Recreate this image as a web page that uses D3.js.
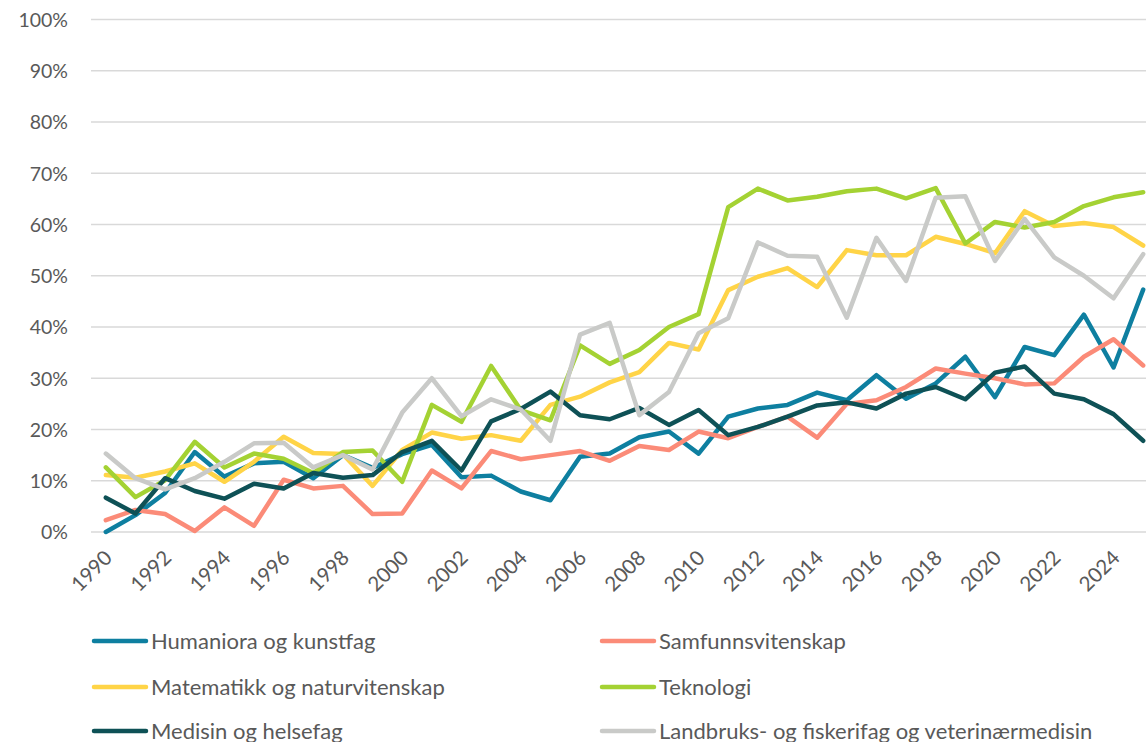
<!DOCTYPE html>
<html>
<head>
<meta charset="utf-8">
<script src="https://cdn.jsdelivr.net/npm/d3@7"></script>
<style>
  html, body { margin: 0; padding: 0; background: #fff; }
  svg { display: block; }
  text { font-family: Lato, "Open Sans", sans-serif; fill: #595959; }
</style>
</head>
<body>
<svg id="chart" width="1146" height="742"></svg>
<script>
const years = d3.range(1990, 2026);
const tickLabels = years.filter(y => (y - 1990) % 2 === 0).map(String);
const yTicks = [0, 0.1, 0.2, 0.3, 0.4, 0.5, 0.6, 0.7, 0.8, 0.9, 1.0];

const seriesNames = [
  "Humaniora og kunstfag",
  "Samfunnsvitenskap",
  "Matematikk og naturvitenskap",
  "Teknologi",
  "Medisin og helsefag",
  "Landbruks- og fiskerifag og veterinærmedisin"
];
const seriesColors = ["#0E7FA0", "#FB8B78", "#FFD447", "#A4D233", "#0E5156", "#C9CAC8"];

const humaniora = [0, 3.3, 7.6, 15.6, 10.8, 13.4, 13.7, 10.5, 15, 12.5, 15.2, 17, 10.7, 11, 7.9, 6.2, 14.7, 15.3, 18.5, 19.6, 15.3, 22.5, 24.1, 24.8, 27.2, 25.7, 30.6, 26, 29, 34.2, 26.3, 36.1, 34.5, 42.4, 32.1, 47.3];
const samfunn = [2.3, 4.3, 3.5, 0.2, 4.8, 1.2, 10.2, 8.5, 9, 3.5, 3.6, 12, 8.5, 15.8, 14.2, 15, 15.8, 13.9, 16.8, 16, 19.6, 18.3, 20.5, 22.5, 18.4, 25, 25.7, 28.3, 31.9, 30.9, 30, 28.8, 29, 34.2, 37.6, 32.5];
const matematikk = [11.1, 10.6, 11.8, 13.4, 9.8, 13.7, 18.6, 15.4, 15.2, 9, 16, 19.4, 18.2, 18.9, 17.8, 24.8, 26.4, 29.2, 31.2, 36.9, 35.6, 47.2, 49.8, 51.5, 47.8, 55, 54, 54, 57.6, 56.2, 54.4, 62.6, 59.7, 60.3, 59.5, 55.9];
const teknologi = [12.6, 6.8, 10.1, 17.6, 12.6, 15.3, 14.3, 11.5, 15.6, 15.9, 9.8, 24.8, 21.5, 32.4, 23.8, 21.8, 36.4, 32.8, 35.5, 40, 42.5, 63.4, 67, 64.7, 65.4, 66.5, 67, 65.1, 67.1, 56.3, 60.5, 59.4, 60.5, 63.6, 65.3, 66.3];
const medisin = [6.7, 3.6, 10.5, 8, 6.5, 9.4, 8.5, 11.5, 10.6, 11.1, 15.6, 17.8, 12, 21.6, 24, 27.4, 22.8, 22, 24.2, 20.9, 23.8, 18.9, 20.5, 22.5, 24.7, 25.3, 24.1, 27, 28.3, 25.9, 31.1, 32.3, 27, 25.9, 23, 17.8];
const landbruk = [15.3, 10.5, 8.3, 10.5, 13.7, 17.3, 17.4, 12.6, 15, 12.2, 23.3, 30, 22.6, 25.9, 23.9, 17.8, 38.5, 40.8, 22.8, 27.3, 38.8, 41.7, 56.5, 53.9, 53.7, 41.8, 57.4, 49, 65.2, 65.5, 52.9, 61.1, 53.6, 50, 45.6, 54.2];

const seriesValues = [humaniora, samfunn, matematikk, teknologi, medisin, landbruk];

const svg = d3.select("#chart");
const plotLeft = 91, plotRight = 1158, plotTop = 19.5, plotBottom = 532;

const x = d3.scalePoint().domain(years.map(String)).range([plotLeft, plotRight]).padding(0.5);
const y = d3.scaleLinear().domain([0, 1]).range([plotBottom, plotTop]);

// gridlines
svg.append("g").selectAll("line").data(yTicks).join("line")
  .attr("x1", plotLeft).attr("x2", plotRight)
  .attr("y1", d => y(d)).attr("y2", d => y(d))
  .attr("stroke", "#D9D9D9").attr("stroke-width", 1.5);

// y axis labels
const yAxis = d3.axisLeft(y).tickValues(yTicks).tickFormat(d3.format(".0%")).tickSize(0).tickPadding(0);
const yg = svg.append("g").attr("transform", "translate(68,0)").call(yAxis);
yg.select(".domain").remove();
yg.selectAll("text").style("font-size", "19.5px").style("fill", "#595959")
  .style("font-family", "Lato, sans-serif").attr("dy", "0.35em");

// x axis labels
const xAxis = d3.axisBottom(x).tickValues(tickLabels).tickSize(0).tickPadding(0);
const xg = svg.append("g").attr("transform", `translate(0,${plotBottom})`).call(xAxis);
xg.select(".domain").remove();
xg.selectAll("text")
  .style("font-size", "20.5px").style("fill", "#595959").style("font-family", "Lato, sans-serif")
  .attr("text-anchor", "end")
  .attr("y", 0).attr("dy", "0.35em")
  .attr("transform", "translate(2,22) rotate(-45)");

// lines
const line = d3.line().x((d, i) => x(String(years[i]))).y(d => y(d / 100));
svg.append("g").selectAll("path").data(seriesValues).join("path")
  .attr("d", d => line(d))
  .attr("fill", "none")
  .attr("stroke", (d, i) => seriesColors[i])
  .attr("stroke-width", 4.5)
  .attr("stroke-linejoin", "round")
  .attr("stroke-linecap", "round");

// legend
const legendCols = [92, 600];
const legendRows = [641, 687, 731];
const lg = svg.append("g");
seriesNames.forEach((name, i) => {
  const cx = legendCols[i % 2], cy = legendRows[Math.floor(i / 2)];
  lg.append("line").attr("x1", cx + 2).attr("x2", cx + 54).attr("y1", cy).attr("y2", cy)
    .attr("stroke", seriesColors[i]).attr("stroke-width", 4.5).attr("stroke-linecap", "round");
  lg.append("text").attr("x", cx + 59).attr("y", cy).attr("dy", "0.35em")
    .style("font-size", "22px").text(name);
});
</script>
</body>
</html>
